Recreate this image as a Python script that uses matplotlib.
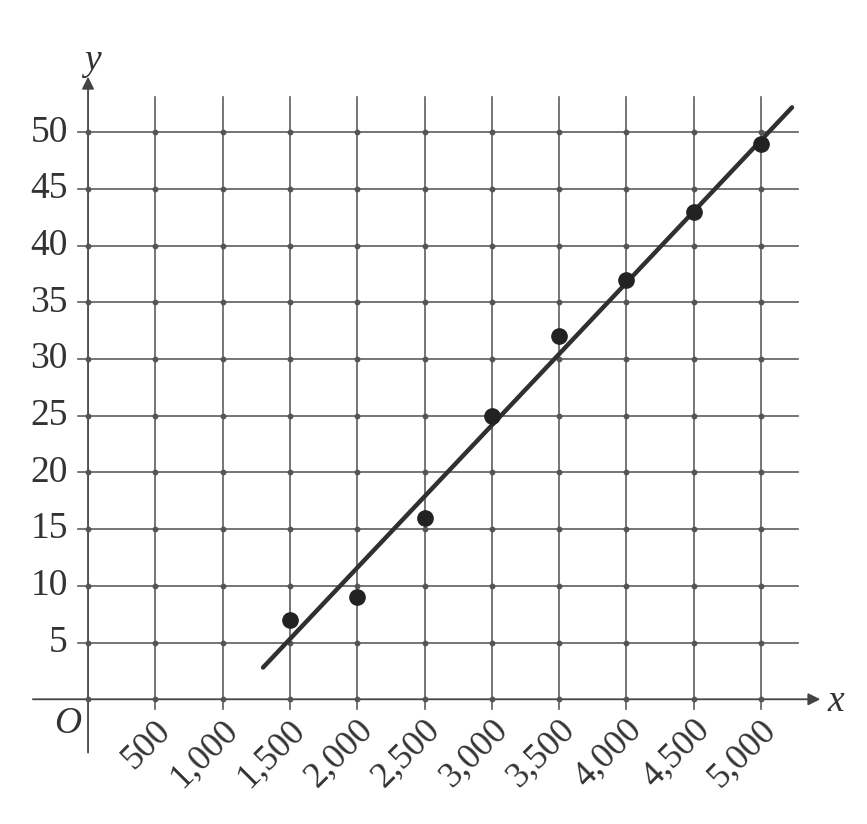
import numpy as np
import matplotlib.pyplot as plt

# datos
x_pts = [1500, 2000, 2500, 3000, 3500, 4000, 4500, 5000]
y_pts = [7, 9, 16, 25, 32, 37, 43, 49]
linea_x = [1300, 5230]
linea_y = [2.8, 52.2]

x_ticks = [500, 1000, 1500, 2000, 2500, 3000, 3500, 4000, 4500, 5000]
x_labels = ['500', '1,000', '1,500', '2,000', '2,500', '3,000', '3,500', '4,000', '4,500', '5,000']
y_ticks = [5, 10, 15, 20, 25, 30, 35, 40, 45, 50]

plt.rcParams['font.family'] = ['Liberation Serif', 'DejaVu Serif']

fig = plt.figure(figsize=(8.67, 8.24), dpi=100)
ax = fig.add_axes([0, 0, 1, 1])
ax.set_xlim(-654, 5787)
ax.set_ylim(-11.0, 61.67)
ax.axis('off')

gris = '#5e5e5e'
x_top = 53.1
x_right = 5275

# grilla
for xv in x_ticks:
    ax.plot([xv, xv], [-0.9, x_top], color=gris, lw=1.2, zorder=1)
for yv in y_ticks:
    ax.plot([-75, x_right], [yv, yv], color=gris, lw=1.2, zorder=1)

# ejes
ax.annotate('', xy=(5440, 0), xytext=(-410, 0),
            arrowprops=dict(arrowstyle='-|>', color='#444444', lw=1.3,
                            mutation_scale=18, shrinkA=0, shrinkB=0), zorder=2)
ax.annotate('', xy=(0, 54.9), xytext=(0, -4.7),
            arrowprops=dict(arrowstyle='-|>', color='#444444', lw=1.3,
                            mutation_scale=18, shrinkA=0, shrinkB=0), zorder=2)

# puntitos en las intersecciones
gx, gy = np.meshgrid([0] + x_ticks, [0] + y_ticks)
ax.plot(gx.ravel(), gy.ravel(), 'o', color='#555555', ms=3.2, zorder=2)

# recta y puntos
ax.plot(linea_x, linea_y, color='#303030', lw=3.2, solid_capstyle='round', zorder=3)
ax.plot(x_pts, y_pts, 'o', color='#222222', ms=11, zorder=4)

# etiquetas
for yv in y_ticks:
    ax.text(-150, yv, str(yv), ha='right', va='center', fontsize=27, color='#333333')
for xv, lab in zip(x_ticks, x_labels):
    ax.text(xv + 80, -2.3, lab, ha='right', va='center', rotation=45,
            rotation_mode='anchor', fontsize=26, color='#333333')

ax.text(-150, -2.2, 'O', ha='center', va='center', fontsize=27, style='italic', color='#333333')
ax.text(30, 56.3, 'y', ha='center', va='center', fontsize=27, style='italic', color='#333333')
ax.text(5555, -0.2, 'x', ha='center', va='center', fontsize=27, style='italic', color='#333333')

fig.savefig('out.png', dpi=100)
